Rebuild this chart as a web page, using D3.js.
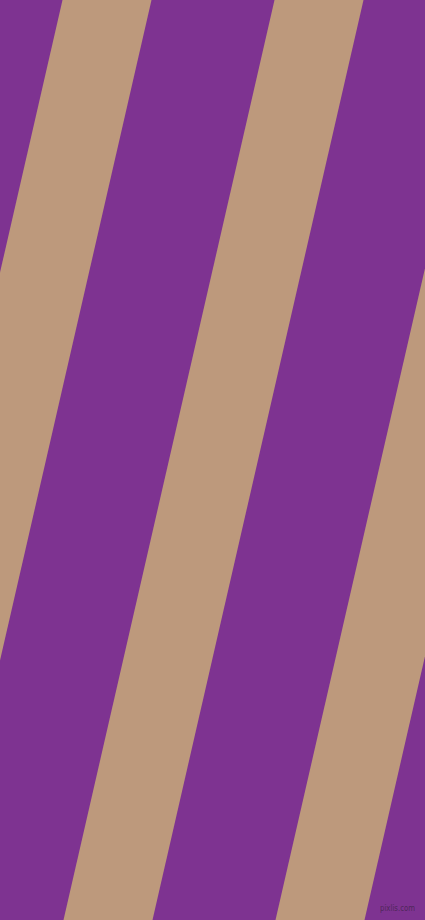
<!DOCTYPE html>
<meta charset="utf-8">
<title>Stripes</title>
<style>
    html, body { margin: 0; padding: 0; background: #7e3391; }
    svg { display: block; }
</style>
<svg width="425" height="920"></svg>
<script src="https://cdn.jsdelivr.net/npm/d3@7"></script>
<script>
    // stripe data
    const stripes = [-1, 0, 1, 2, 3];
    const colors = { base: "#7e3391", band: "#bd997c" };
    const watermark = "pixlis.com";

    const svg = d3.select("svg");
    const width = +svg.attr("width");
    const height = +svg.attr("height");

    // stripe index -> left edge at the top
    const x = d3.scaleLinear().domain([0, 1]).range([62.5, 274.5]);
    const bandW = 89;
    // vertical position -> horizontal shift
    const shift = d3.scaleLinear().domain([0, height]).range([0, -211]);

    svg.append("rect")
        .attr("width", width)
        .attr("height", height)
        .attr("fill", colors.base);

    svg.selectAll(".band")
        .data(stripes)
        .join("polygon")
        .attr("class", "band")
        .attr("fill", colors.band)
        .attr("points", d => {
            const x0 = x(d);
            return [
                [x0 + shift(0), 0],
                [x0 + bandW + shift(0), 0],
                [x0 + bandW + shift(height), height],
                [x0 + shift(height), height]
            ].map(p => p.join(",")).join(" ");
        });

    svg.append("text")
        .attr("x", 380)
        .attr("y", 911)
        .attr("textLength", 35)
        .attr("lengthAdjust", "spacingAndGlyphs")
        .attr("font-family", "DejaVu Sans, sans-serif")
        .attr("font-size", 9)
        .attr("fill", "#3e2448")
        .attr("opacity", 0.75)
        .text(watermark);
</script>
